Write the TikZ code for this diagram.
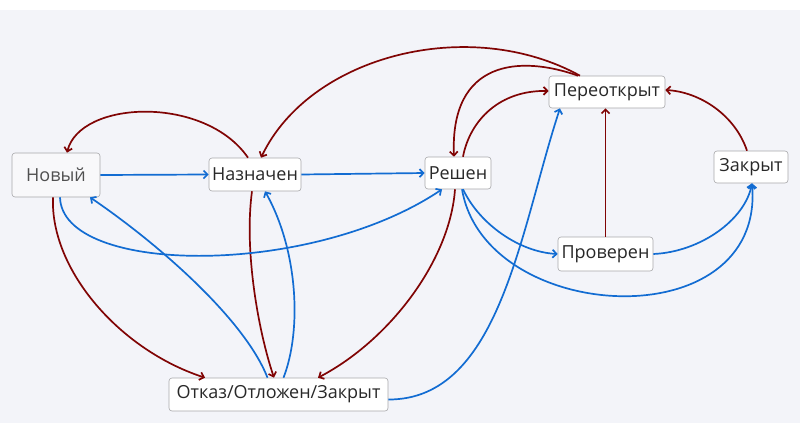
\documentclass[tikz,border=0pt]{standalone}
\usepackage{fontspec}
\setmainfont{Open Sans}
\usetikzlibrary{arrows.meta}
\definecolor{bgc}{RGB}{243,244,249}
\definecolor{redc}{RGB}{128,4,4}
\definecolor{bluec}{RGB}{18,108,210}
\definecolor{bordc}{RGB}{168,168,170}
\definecolor{txtc}{RGB}{40,40,40}
\begin{document}
\begin{tikzpicture}[x=1pt,y=-1pt,
  state/.style={draw=bordc,line width=0.6pt,rounded corners=3pt,fill=white,
    inner sep=0pt,minimum height=33pt,text=txtc,font=\fontsize{18}{21}\selectfont},
  redarr/.style={draw=redc,line width=1.7pt,-{Straight Barb[length=4pt,width=8pt]}},
  bluearr/.style={draw=bluec,line width=1.7pt,-{Straight Barb[length=4pt,width=8pt]}}]
\useasboundingbox (0,0) rectangle (800,423);
\fill[white] (0,0) rectangle (800,10);
\fill[bgc] (0,10) rectangle (800,423);

\node[state,minimum width=88pt,minimum height=44pt,fill={rgb,255:red,248;green,248;blue,250},text={rgb,255:red,80;green,80;blue,80}] (new) at (56,175) {Новый};
\node[state,minimum width=92pt] (asg) at (255,174.5) {Назначен};
\node[state,minimum width=66pt,minimum height=32pt] (res) at (458,173) {Решен};
\node[state,minimum width=116pt,minimum height=32pt] (reo) at (607,92) {Переоткрыт};
\node[state,minimum width=74pt,minimum height=32pt] (cls) at (751,167) {Закрыт};
\node[state,minimum width=95pt,minimum height=34pt] (ver) at (605.5,254) {Проверен};
\node[state,minimum width=219pt] (rej) at (278.5,394.5) {Отказ/Отложен/Закрыт};

% red
\draw[redarr] ([xshift=-7pt]asg.north) .. controls (205,95) and (80,100) .. ([xshift=11pt]new.north);
\draw[redarr] ([xshift=-27pt]reo.north) .. controls (470,15) and (310,55) .. ([xshift=6pt]asg.north);
\draw[redarr] ([xshift=-29pt]reo.north) .. controls (520,55) and (450,60) .. ([xshift=-4pt]res.north);
\draw[redarr] ([xshift=5pt]res.north) .. controls (470,120) and (500,90) .. ([yshift=1pt]reo.west);
\draw[redarr] ([xshift=-4pt]cls.north) .. controls (735,115) and (700,92) .. ([yshift=2pt]reo.east);
\draw[redarr] (ver.north) -- (ver.north |- reo.south);
\draw[redarr] ([xshift=-3pt]new.south) .. controls (50,270) and (120,350) .. ([xshift=-73.5pt]rej.north);
\draw[redarr] ([xshift=-3pt]asg.south) .. controls (244,250) and (258,330) .. ([xshift=-4.5pt]rej.north);
\draw[redarr] ([xshift=-3pt]res.south) .. controls (450,260) and (390,340) .. ([xshift=39.5pt]rej.north);

% blue
\draw[bluearr] (new.east) -- (asg.west);
\draw[bluearr] (asg.east) -- (res.west);
\draw[bluearr] ([xshift=4pt]new.south) .. controls (62,275) and (310,278) .. ([xshift=-16pt]res.south);
\draw[bluearr] ([xshift=-11pt]rej.north) .. controls (245,320) and (160,245) .. ([xshift=34pt]new.south);
\draw[bluearr] ([xshift=5pt]rej.north) .. controls (302,330) and (298,250) .. ([xshift=10pt]asg.south);
\draw[bluearr] ([yshift=-5pt]rej.east) .. controls (500,400) and (520,230) .. ([xshift=-47pt]reo.south);
\draw[bluearr] ([xshift=5pt]res.south) .. controls (480,225) and (520,252) .. (ver.west);
\draw[bluearr] (ver.east) .. controls (700,252) and (745,220) .. ([xshift=1pt]cls.south);
\draw[bluearr] ([xshift=4pt]res.south) .. controls (485,325) and (765,340) .. ([xshift=1pt]cls.south);
\end{tikzpicture}
\end{document}
